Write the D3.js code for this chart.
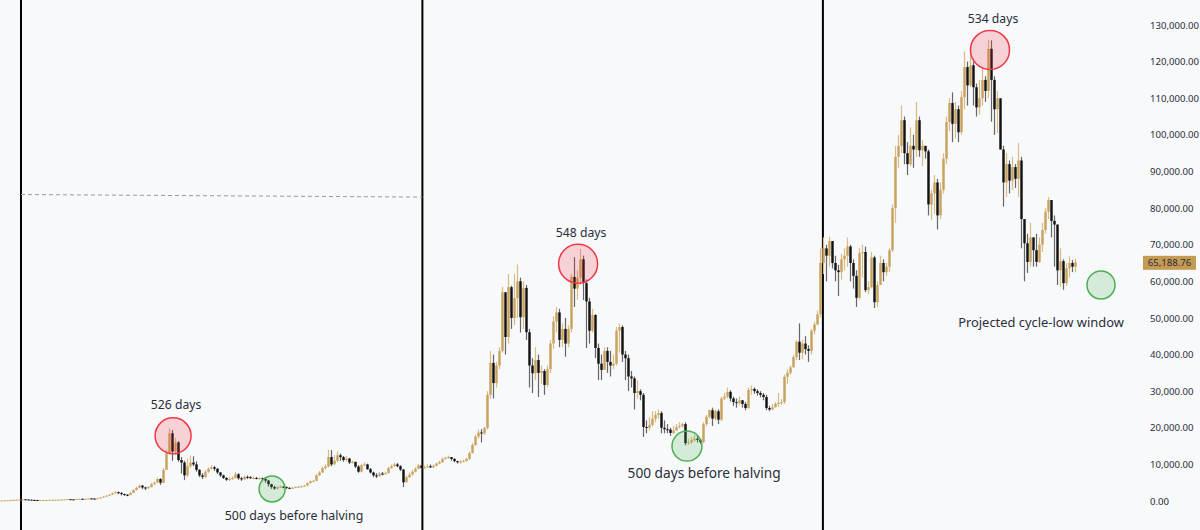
<!DOCTYPE html>
<html>
<head>
<meta charset="utf-8">
<script src="https://cdn.jsdelivr.net/npm/d3@7/dist/d3.min.js"></script>
<style>
  html, body { margin: 0; padding: 0; background: #f8f9fb; }
  svg { display: block; }
  text { font-family: "Noto Sans", sans-serif; fill: #2a2e39; }
</style>
</head>
<body>
<div id="chart"></div>
<script>
// prices in thousands of USD, one candle per slot, open = previous close
const closes = [
  .15,.18,.2,.25,.3,.35,.4,.45,.42,.35,
  .3,.28,.27,.27,.27,.28,.3,.32,.33,.35,
  .38,.45,.5,.45,.42,.55,.6,.55,.6,.7,
  .65,.6,.75,.95,1.2,1.45,1.7,2.1,2.4,2.2,
  1.9,1.7,1.6,2.2,3,3.6,4.2,3.7,3.5,3.8,
  4.6,5,6,5,8.5,13,18.5,13.5,16,11.2,
  10.5,7,9.5,10.5,10,8.5,7,6.6,8,8.8,
  9.2,8.8,7.8,7,6.3,5.8,6,6.3,7.3,6.2,
  5.9,6.6,6.5,6.3,6.3,6.2,6.2,6,5.6,4.6,
  3.8,3.4,3.8,3.9,3.8,3.6,3.4,3.6,3.8,3.9,
  4,4.2,4.9,5.4,5.5,7,7.8,9,9.4,12,
  10,11,12.5,12,11.2,11.6,10.5,10.7,9.4,8,
  9.8,10,8.7,7.8,7,6.8,7.5,7.4,7.6,9,
  9.5,10,9.5,8.6,5.1,6.5,7.2,8,8.8,9.7,
  9,9.2,9.5,9.2,9.6,10.2,10.6,11.5,11.8,12,
  11.5,10.9,10.6,10.8,10.9,11.5,13.1,15.3,17.6,18.7,
  18.5,20,29,37.7,32.2,37,41,57,44.8,58.4,
  50,55.4,60,50.2,58.2,46.1,37,34.9,38.5,35,
  35.5,31.7,36,43,49,51.5,44,47,43,47,
  61.2,58,61,66,59.5,54.5,46.5,50.8,41.8,37.5,
  35.8,41,38,37,37.5,46.5,47.5,40,39,34,
  33.5,29.5,30,29,20.2,20,20.8,22.5,23.5,24,
  20,19.6,19.5,18.6,19.2,20.2,20.5,21,15.8,16,
  16.6,17,16.7,16.1,21,23,24.8,22.5,24.5,22.2,
  28,28.5,29.8,28,27,26.8,27.5,26.5,25.4,30.3,
  30.6,30,29.5,29,28.4,25.4,25,25.6,26.5,26.8,
  27,33.9,35,36.5,39.3,43.5,40.5,43,41.5,41,
  46.5,48.2,51,65,69,67,71,65,63,62.5,
  66,67,69.5,65,61.5,55.5,67.7,68,57.6,58.4,
  66.5,54.3,59,65,62.5,64,68.5,80,94,97,
  104,95,92,97,96,104,95.8,97,95.5,81,
  84,87,78,85,93.5,103.5,108.7,103,107,100.7,
  110.3,118.5,113.5,119,113,107.5,110,115,112,123.5,
  115,107,110,96,87,92,87.5,91.2,88,93,
  77,70.4,65.3,72,68.5,65.3,70,74,79,82.2,
  76.5,75.5,63,65.5,59.5,63.6,65,64,65.18876
];
const highs = [
  .2,.2,.25,.3,.35,.4,.5,.5,.5,.45,
  .4,.35,.3,.3,.3,.35,.35,.4,.4,.4,
  .45,.5,.6,.55,.5,.65,.65,.65,.75,.8,
  .8,.75,.85,1.1,1.3,1.6,1.9,2.3,2.7,2.6,
  2.4,2,1.9,2.5,3.2,3.9,4.5,4.4,3.9,4.1,
  4.9,5.3,6.4,6.2,9,14,19.8,19.4,17.3,16.4,
  12,11,11.6,12.4,12.2,10.8,8.7,7.6,8.5,9.2,
  9.7,9.6,9,7.9,7.2,6.5,6.5,6.8,8,7.6,
  6.6,7,7,6.8,6.7,6.6,6.5,6.4,6.3,5.8,
  4.7,4.2,4,4.2,4.1,4,3.8,3.9,4,4.1,
  4.2,4.4,5.1,5.6,5.8,7.4,8.2,9.4,10,14,
  13.9,12.5,13.5,13,12.3,12.3,11.8,11,10.7,9.8,
  10.2,10.6,10.2,9,8,7.6,7.9,7.9,8,9.3,
  10,10.5,10.4,9.8,8.7,7,7.8,8.5,9.2,10.1,
  10.2,9.7,10,10,10,10.5,11,11.8,12.1,12.4,
  12,11.7,11,11.1,11.3,11.8,13.5,15.8,18,19.5,
  19.6,20.2,30,41,40,38,42,58.5,57,62,
  58.8,62,64.6,61,60,59,47,39,42,40,
  37,36,37,44,50.5,53,52.5,48.5,50,48,
  62,66.6,63,68.8,67,60.5,55.5,52.5,51,43,
  40,42,42,41,40,47.5,48.5,48,41,40,
  35.5,34,33,30.5,29.5,22,23,24.5,24.5,25,
  24.5,22,21,20,20.5,21,21.5,21.3,21.5,17,
  17.5,18,18,17,21.5,23.5,25,25.5,25,25,
  28.5,29.5,31,30.3,28.5,28,28.5,27.6,27,31,
  31.5,31,30.5,30,29.5,29,26,26.5,27,29.5,
  27.8,34.5,36,37,40,44,48.5,44,45,42.5,
  47,49,52,69,72,70,72.2,71,67,64.5,
  67.5,69,72,70,66,63,69,70,69.5,60,
  68,67,60,67,66,65,69,81,97,100,
  108,105,98,102,100,109,105,98.5,97,96,
  85,89,88,87,95,105,110,111.6,109,108,
  112,122.8,120,123.8,120,114,115,118,116,126,
  125.8,116,112,104,97,95,93,94,92,97.8,
  94,76,73,76,72,73,72,76,80,83,
  82,78,75.5,69,66,65,66.8,65.8,66.2
];
const lows = [
  .1,.1,.15,.2,.2,.3,.35,.35,.3,.3,
  .25,.2,.2,.2,.2,.2,.25,.25,.3,.3,
  .3,.35,.4,.4,.35,.4,.5,.5,.5,.6,
  .55,.5,.6,.7,.95,1.2,1.4,1.7,2,1.9,
  1.5,1.4,1.3,1.6,2.2,2.9,3.5,3.2,3,3.3,
  3.7,4.4,5,4.4,4.8,8.5,13,11,12.5,10.7,
  7.5,5.7,6.5,9,9.5,8,6.5,6,6.3,7.6,
  8.6,8.2,7.4,6.6,6,5.5,5.5,5.8,6.2,5.8,
  5.5,5.8,6,6,5.9,5.9,5.9,5.6,5,3.9,
  3.3,3.1,3.1,3.6,3.5,3.3,3.2,3.3,3.5,3.6,
  3.8,3.9,4.1,4.8,5.1,5.4,6.9,7.6,8.6,9.2,
  9.5,9.9,10.6,11,10.7,10.8,10.1,10.2,9,7.7,
  7.8,9.5,8.5,7.5,6.5,6.3,6.6,7,7.2,7.5,
  8.8,9.3,9.2,8.2,3.8,5.6,6.3,7,7.8,8.7,
  8.6,8.8,9,9,9,9.5,10,10.4,11.3,11.5,
  11,10.6,10.2,10.2,10.6,10.8,11.2,13,15,17,
  16,18,19.5,28,28,31,36,40.5,40,43,
  47,48,50,46,47,44,31,29.5,33,28.4,
  32,29,31,35,41.5,46,42,42,39.4,42,
  46,53,55,59,54.9,41.8,43,46,39,33,
  33,36,35,34,36,37,40.5,38,33,30,
  31,25,28,27.5,17.5,18.5,19.2,20.3,21.5,22.5,
  18.5,18.5,18.5,17.8,18.3,19.5,19.8,20,15.2,15.4,
  15.6,16.2,16,15.6,15.8,20.5,22.5,20.5,22,21,
  21.8,27.5,28,27.2,26,25.5,26.2,25.5,24.8,25.2,
  29,29.3,28.8,28.3,27.5,24.8,24.5,24.8,25.5,25.7,
  26.2,26.5,32,34.5,36.5,38.5,38.5,38.7,40,38,
  40,45.5,48,50,62,60,64,63.5,60,56,
  60.5,63,64,60,58,53,55,61,57,56.5,
  58,52.7,53,60,60,61.5,62.5,68,76,91,
  95,92,89,91.5,91,94,94,91.5,93.5,78,
  76.8,78.5,74.2,77,84,92,101,98,99,98,
  100,107,108,113,108,105,105.5,108,109,110,
  103.6,100,100.5,96,80.4,83,84,85,85.5,83,
  69,60,62.3,64,64,64,65,68,73,77,
  72,64,59,58.5,57.7,58.8,61,62.5,62.5
];

const priceTicks = [0,10,20,30,40,50,60,70,80,90,100,110,120,130];
const halvings = [6.5, 140.3, 273.8];

const peakSlots = [57.2, 192.2, 329.5];
const peakPrices = [17.8, 64.8, 123.2];
const peakLabels = ["526 days", "548 days", "534 days"];

const lowSlots = [90.2, 228.5, 366.5];
const lowPrices = [3.3, 15, 59];
const lowRadii = [13, 15, 14];
const lowLabels = ["500 days before halving", "500 days before halving", "Projected cycle-low window"];
const lowLabelSlots = [97.5, 234.2, 346.5];
const lowLabelPrices = [-5.2, 6.2, 47.4];
const lowLabelSizes = [12.4, 13.7, 12.9];

const gold = "#c9a25e";
const width = 1200;
const height = 530;

const x = d3.scaleLinear().domain([0, 358]).range([1.5, 1075.5]);
const y = d3.scaleLinear().domain([0, 130]).range([501, 25]);

const candles = closes.map((c, i) => ({
  i,
  open: i ? closes[i - 1] : c,
  close: c,
  high: highs[i],
  low: lows[i],
}));

const svg = d3
  .select("#chart")
  .append("svg")
  .attr("width", width)
  .attr("height", height);

// halving lines
svg
  .append("g")
  .selectAll("line")
  .data(halvings)
  .join("line")
  .attr("x1", (d) => x(d))
  .attr("x2", (d) => x(d))
  .attr("y1", 0)
  .attr("y2", height)
  .attr("stroke", "#000")
  .attr("stroke-width", 2);

// dashed trend line between the first two halvings
svg
  .append("line")
  .attr("x1", x(halvings[0]))
  .attr("x2", x(halvings[1]))
  .attr("y1", y(83.7))
  .attr("y2", y(83))
  .attr("stroke", "#9a9a9a")
  .attr("stroke-dasharray", "4 3");

const candle = svg
  .append("g")
  .selectAll("g")
  .data(candles)
  .join("g")
  .attr("transform", (d) => `translate(${x(d.i)},0)`);

candle
  .append("line")
  .attr("y1", (d) => y(d.high))
  .attr("y2", (d) => y(d.low))
  .attr("stroke", (d) => (d.close >= d.open ? "#d9bb84" : "#666"))
  .attr("stroke-width", 1.2);

candle
  .append("rect")
  .attr("x", -1.2)
  .attr("width", 2.4)
  .attr("y", (d) => y(Math.max(d.open, d.close)))
  .attr("height", (d) => Math.max(1, Math.abs(y(d.open) - y(d.close))))
  .attr("fill", (d) => (d.close >= d.open ? gold : "#111"));

// peak circles
svg
  .append("g")
  .selectAll("circle")
  .data(peakSlots)
  .join("circle")
  .attr("cx", (d) => x(d))
  .attr("cy", (d, i) => y(peakPrices[i]))
  .attr("r", (d, i) => (i ? 19.5 : 18))
  .attr("fill", "#f23645")
  .attr("fill-opacity", 0.2)
  .attr("stroke", "#f23645")
  .attr("stroke-width", 1.5);

svg
  .append("g")
  .selectAll("text")
  .data(peakLabels)
  .join("text")
  .attr("x", (d, i) => x(peakSlots[i]) + 3)
  .attr("y", (d, i) => y(peakPrices[i]) - 27)
  .attr("text-anchor", "middle")
  .attr("font-size", 12.2)
  .text((d) => d);

// low circles
svg
  .append("g")
  .selectAll("circle")
  .data(lowSlots)
  .join("circle")
  .attr("cx", (d) => x(d))
  .attr("cy", (d, i) => y(lowPrices[i]))
  .attr("r", (d, i) => lowRadii[i])
  .attr("fill", "#4caf50")
  .attr("fill-opacity", 0.2)
  .attr("stroke", "#4caf50")
  .attr("stroke-width", 1.5);

svg
  .append("g")
  .selectAll("text")
  .data(lowLabels)
  .join("text")
  .attr("x", (d, i) => x(lowLabelSlots[i]))
  .attr("y", (d, i) => y(lowLabelPrices[i]))
  .attr("text-anchor", "middle")
  .attr("font-size", (d, i) => lowLabelSizes[i])
  .text((d) => d);

// price axis
const axis = svg
  .append("g")
  .attr("transform", "translate(1150,0)")
  .call(
    d3
      .axisRight(y)
      .tickValues(priceTicks)
      .tickSize(0)
      .tickPadding(0)
      .tickFormat((d) => d3.format(",.2f")(d * 1000))
  );
axis.select(".domain").remove();
axis.selectAll("text").attr("font-size", 9.6).style("font-family", '"Noto Sans", sans-serif').attr("fill", "#2a2e39");

// last price tag
const last = closes[closes.length - 1];
svg
  .append("rect")
  .attr("x", 1143)
  .attr("y", y(last) - 6.5)
  .attr("width", 53)
  .attr("height", 14)
  .attr("fill", "#c49a55");
svg
  .append("text")
  .attr("x", 1169.5)
  .attr("y", y(last) + 4)
  .attr("text-anchor", "middle")
  .attr("font-size", 9.6)
  .text(d3.format(",.2f")(last * 1000));
</script>
</body>
</html>
